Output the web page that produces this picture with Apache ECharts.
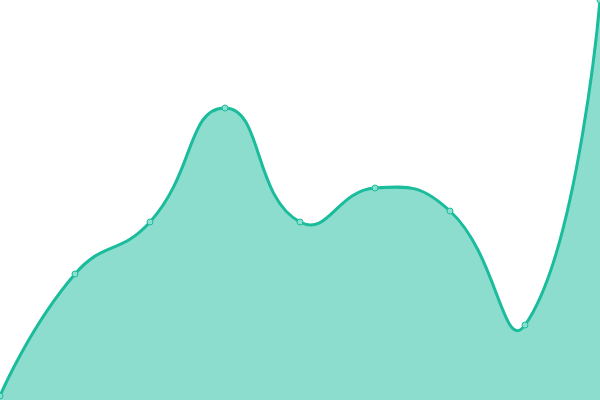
<!DOCTYPE html>
<html><head><meta charset="utf-8">
<script src="https://cdn.jsdelivr.net/npm/echarts@6/dist/echarts.min.js"></script>
<style>html,body{margin:0;padding:0;background:#fff}#c{width:600px;height:400px}</style>
</head><body><div id="c"></div>
<script>
const categories = ['1','2','3','4','5','6','7','8','9'];
const values = [4, 126, 178, 292, 178, 212, 189, 75, 400];
const SMOOTH = 0.5;

function smoothPath(pts) {
  // control points per point (classic Catmull-Rom-like bezier)
  const cps = [];
  for (let i = 0; i < pts.length; i++) {
    const p = pts[i];
    if (i === 0 || i === pts.length - 1) { cps.push([p.slice(), p.slice()]); continue; }
    const a = pts[i - 1], b = pts[i + 1];
    const vx = (b[0] - a[0]) * SMOOTH, vy = (b[1] - a[1]) * SMOOTH;
    let d0 = Math.hypot(p[0] - a[0], p[1] - a[1]);
    let d1 = Math.hypot(p[0] - b[0], p[1] - b[1]);
    const s = d0 + d1; if (s) { d0 /= s; d1 /= s; }
    cps.push([[p[0] - vx * d0, p[1] - vy * d0], [p[0] + vx * d1, p[1] + vy * d1]]);
  }
  let d = 'M' + pts[0][0] + ' ' + pts[0][1];
  for (let i = 1; i < pts.length; i++) {
    const c1 = cps[i - 1][1], c2 = cps[i][0], p = pts[i];
    d += ' C' + c1[0] + ' ' + c1[1] + ' ' + c2[0] + ' ' + c2[1] + ' ' + p[0] + ' ' + p[1];
  }
  return d;
}

const chart = echarts.init(document.getElementById('c'));
chart.setOption({
  animation: false,
  grid: {left: 0, right: 0, top: 0, bottom: 0},
  xAxis: {type: 'category', data: categories, boundaryGap: false, show: false},
  yAxis: {type: 'value', min: 0, max: 400, show: false},
  series: [{
    type: 'custom',
    data: values.map((v, i) => [i, v]),
    encode: {x: 0, y: 1},
    renderItem: function (params, api) {
      if (params.dataIndex !== 0) return null;
      const pts = values.map((v, i) => api.coord([i, v]));
      const base = api.coord([0, 0])[1];
      const line = smoothPath(pts);
      const area = line + ' L' + pts[pts.length - 1][0] + ' ' + base + ' L' + pts[0][0] + ' ' + base + ' Z';
      return {
        type: 'group',
        children: [
          {type: 'path', shape: {pathData: area}, style: {fill: 'rgba(26,188,156,0.5)', stroke: null}},
          {type: 'path', shape: {pathData: line}, style: {fill: null, stroke: '#1abc9c', lineWidth: 3}}
        ]
      };
    }
  }, {
    type: 'scatter',
    data: values.map((v, i) => [i, v]),
    symbol: 'circle',
    symbolSize: 6,
    itemStyle: {color: '#8ae0d0', borderColor: '#1abc9c', borderWidth: 1, opacity: 1}
  }]
});
</script></body></html>
